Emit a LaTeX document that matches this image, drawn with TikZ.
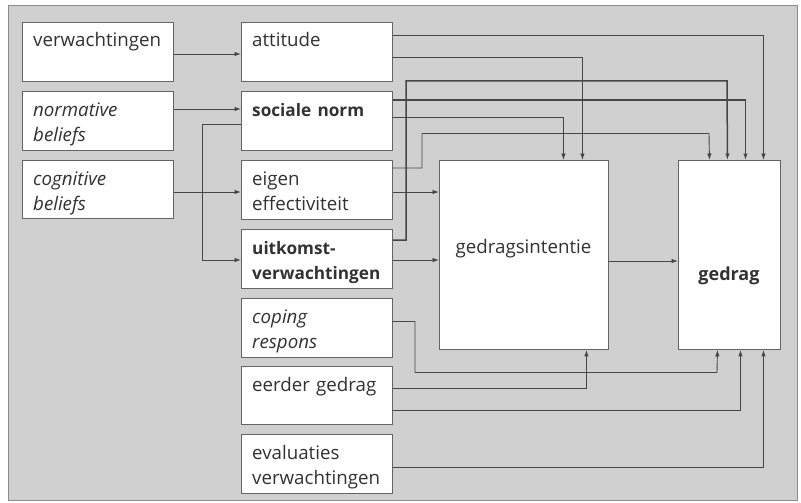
\documentclass[tikz,border=0pt]{standalone}
\usepackage{fontspec}
\setmainfont{Open Sans}
\usetikzlibrary{arrows.meta}
\definecolor{bgc}{RGB}{208,208,208}
\definecolor{framec}{RGB}{140,140,140}
\definecolor{linec}{RGB}{70,70,70}
\definecolor{boxc}{RGB}{100,100,100}
\definecolor{txtc}{RGB}{50,50,50}
\newcommand{\bfsmall}{\fontsize{17.2}{25.5}\selectfont\bfseries}
\begin{document}
\begin{tikzpicture}[x=1pt,y=1pt,
  box/.style={draw=boxc, fill=white, line width=0.9pt, anchor=north west, inner sep=0pt,
              minimum width=151pt, minimum height=59pt},
  txt/.style={anchor=base west, inner sep=0pt, text width=138pt, align=left, text=txtc,
              font=\fontsize{18.7}{25.5}\selectfont},
  ctxt/.style={anchor=base, inner sep=0pt, text=txtc, font=\fontsize{18.7}{25.5}\selectfont},
  conn/.style={draw=linec, line width=0.9pt, -{Latex[length=6.5pt,width=4.5pt]}},
  thickconn/.style={conn, line width=1.5pt}
]
\useasboundingbox (0,0) rectangle (801,-503);
\node[draw=framec, fill=bgc, line width=0.9pt, anchor=north west, inner sep=0pt,
      minimum width=789pt, minimum height=495pt] (frame) at (8,-5) {};

% left column
\node[box] (verw) at (22,-22) {};
\node[box] (norm) at (22,-91) {};
\node[box, minimum height=58pt] (cogn) at (22,-160) {};
% middle column
\node[box] (att) at (241,-22) {};
\node[box] (soc) at (241,-91) {};
\node[box] (eig) at (241,-160) {};
\node[box] (uit) at (241,-229) {};
\node[box] (cop) at (241,-298) {};
\node[box, minimum height=58pt] (eer) at (241,-366) {};
\node[box] (eva) at (241,-434) {};
% right boxes
\node[box, minimum width=169pt, minimum height=189pt] (gi) at (439,-160) {};
\node[box, minimum width=102pt, minimum height=189pt] (ged) at (678,-160) {};

% texts
\node[txt] (verw-t) at ([shift={(11,-25)}]verw.north west) {verwachtingen};
\node[txt] (norm-t) at ([shift={(11,-25)}]norm.north west) {\itshape normative\\beliefs};
\node[txt] (cogn-t) at ([shift={(11,-25)}]cogn.north west) {\itshape cognitive\\beliefs};
\node[txt] (att-t) at ([shift={(11,-25)}]att.north west) {attitude};
\node[txt] (soc-t) at ([shift={(11,-25)}]soc.north west) {\bfsmall sociale norm};
\node[txt] (eig-t) at ([shift={(11,-25)}]eig.north west) {eigen\\effectiviteit};
\node[txt] (uit-t) at ([shift={(11,-25)}]uit.north west) {\bfsmall uitkomst-\\verwachtingen};
\node[txt] (cop-t) at ([shift={(11,-25)}]cop.north west) {\itshape coping\\respons};
\node[txt] (eer-t) at ([shift={(11,-25)}]eer.north west) {eerder gedrag};
\node[txt] (eva-t) at ([shift={(11,-25)}]eva.north west) {evaluaties\\verwachtingen};
\node[ctxt] (gi-t) at (523.5,-253) {gedragsintentie};
\node[ctxt] (ged-t) at (729,-280) {\fontsize{18}{25}\selectfont\bfseries gedrag};

% left to middle
\draw[conn] ([yshift=-32]verw.north east) -- ([yshift=-32]att.north west);
\draw[conn] ([yshift=-18]norm.north east) -- ([yshift=-18]soc.north west);
\draw[conn] ([yshift=-32]cogn.north east) -- ([yshift=-32]eig.north west);
\draw[conn] ([yshift=-33]soc.north west) -| (202,-260) -- ([yshift=-31]uit.north west);

% middle to gedrag (top)
\draw[conn] ([yshift=-13]att.north east) -| ([xshift=34]ged.north);
\draw[conn] ([yshift=-35]att.north east) -| ([xshift=58.5]gi.north);
\draw[thickconn] ([yshift=-11]uit.north east) -- (406,-240) |- (727,-81) -- ([xshift=-2]ged.north);
\draw[thickconn] ([yshift=-9]soc.north east) -| ([xshift=16]ged.north);
\draw[conn] ([yshift=-26]soc.north east) -| ([xshift=39.5]gi.north);
\draw[conn] ([yshift=-8]eig.north east) -- (422,-168) |- (709,-133.5) -- ([xshift=-20]ged.north);
\draw[conn] ([yshift=-32]eig.north east) -- ([yshift=-32]gi.north west);
\draw[conn] ([yshift=-31]uit.north east) -- ([yshift=-100]gi.north west);
\draw[conn] ([yshift=-101]gi.north east) -- ([yshift=-101]ged.north west);

% bottom connectors
\draw[conn] ([yshift=-23.5]cop.north east) -- (415,-321.5) |- (717,-372.5) -- ([xshift=-12]ged.south);
\draw[conn] ([yshift=-22]eer.north east) -| ([xshift=62.5]gi.south);
\draw[conn] ([yshift=-44]eer.north east) -| ([xshift=11]ged.south);
\draw[conn] ([yshift=-33]eva.north east) -| ([xshift=34]ged.south);
\end{tikzpicture}
\end{document}
